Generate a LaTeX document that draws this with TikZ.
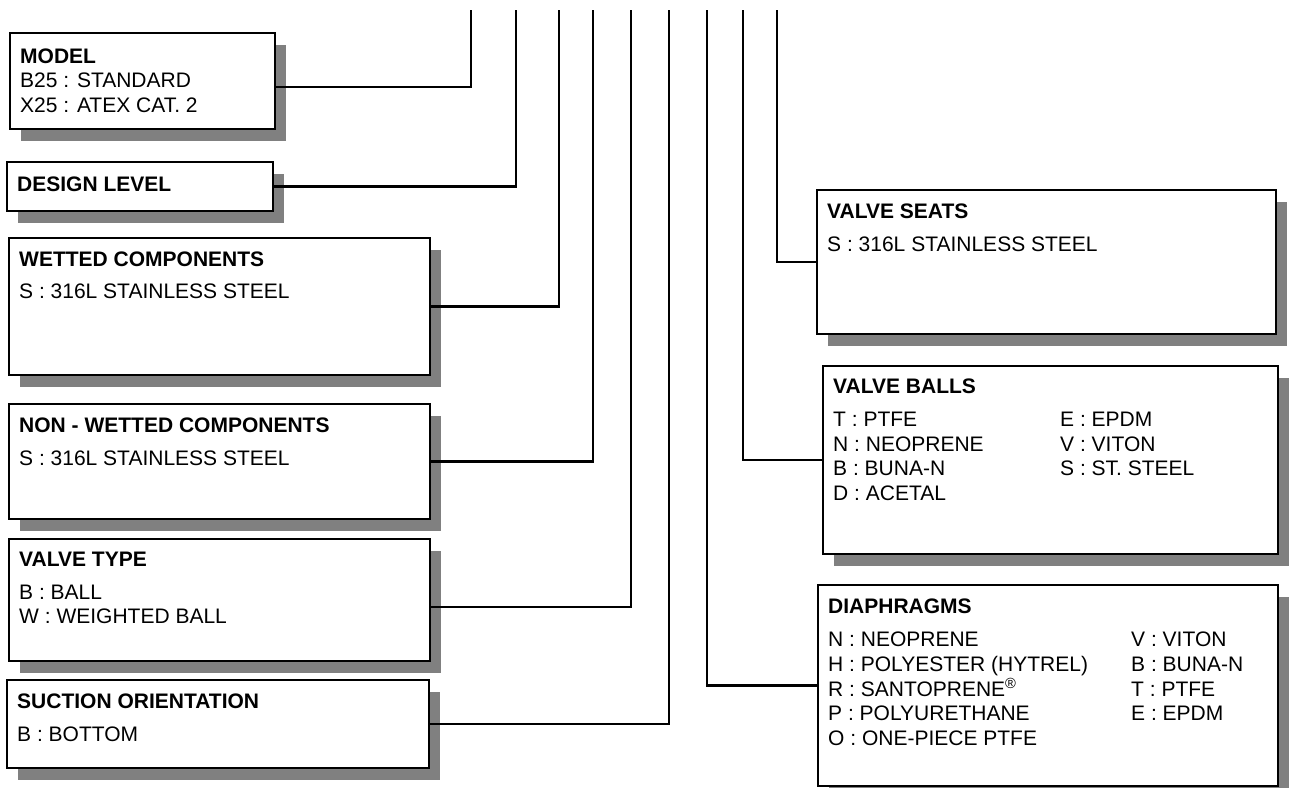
\documentclass[tikz,border=0pt]{standalone}
\usepackage{fontspec}
\setmainfont{Liberation Sans}
\usetikzlibrary{shadows}

\begin{document}
\begin{tikzpicture}[x=1pt, y=-1pt,
  box/.style={draw, line width=2.7pt, fill=white, anchor=north west, inner sep=0pt, outer sep=0pt,
    drop shadow={shadow xshift=11pt, shadow yshift=-12pt, fill=black!50, opacity=1}},
  txt/.style={anchor=base west, inner sep=0pt, font=\fontsize{21}{24.5}\selectfont},
  link/.style={line width=2.2pt}
]
\useasboundingbox (0,0) rectangle (1289,787);

% left column
\node[box, minimum width=265pt, minimum height=96pt] (model) at (10,33) {};
\node[box, minimum width=266pt, minimum height=49pt] (design) at (7,162) {};
\node[box, minimum width=421pt, minimum height=137pt] (wetted) at (9,238) {};
\node[box, minimum width=421pt, minimum height=115pt] (nonwet) at (9,404) {};
\node[box, minimum width=421pt, minimum height=122pt] (vtype) at (9,539) {};
\node[box, minimum width=422pt, minimum height=88pt] (suction) at (7,680) {};

% right column
\node[box, minimum width=459pt, minimum height=144pt] (seats) at (817,190) {};
\node[box, minimum width=455pt, minimum height=188pt] (balls) at (823,366) {};
\node[box, minimum width=460pt, minimum height=201pt] (diaph) at (818,585) {};

% texts
\node[txt] (model-txt) at ([shift={(10,30)}]model.north west)
  {\begin{tabular}[t]{@{}l@{}}\bfseries MODEL\\ B25 : STANDARD\\ X25 : ATEX CAT. 2\end{tabular}};
\node[txt] (design-txt) at ([shift={(10,29)}]design.north west) {\bfseries DESIGN LEVEL};
\node[txt] (wetted-txt) at ([shift={(10,28)}]wetted.north west)
  {\begin{tabular}[t]{@{}l@{}}\bfseries WETTED COMPONENTS\\[8pt] S : 316L STAINLESS STEEL\end{tabular}};
\node[txt] (nonwet-txt) at ([shift={(10,28)}]nonwet.north west)
  {\begin{tabular}[t]{@{}l@{}}\bfseries NON - WETTED COMPONENTS\\[8.5pt] S : 316L STAINLESS STEEL\end{tabular}};
\node[txt] (vtype-txt) at ([shift={(10,27)}]vtype.north west)
  {\begin{tabular}[t]{@{}l@{}}\bfseries VALVE TYPE\\[8.5pt] B : BALL\\ W : WEIGHTED BALL\end{tabular}};
\node[txt] (suction-txt) at ([shift={(10,28)}]suction.north west)
  {\begin{tabular}[t]{@{}l@{}}\bfseries SUCTION ORIENTATION\\[8.5pt] B : BOTTOM\end{tabular}};
\node[txt] (seats-txt) at ([shift={(10,28)}]seats.north west)
  {\begin{tabular}[t]{@{}l@{}}\bfseries VALVE SEATS\\[8.5pt] S : 316L STAINLESS STEEL\end{tabular}};
\node[txt] (balls-txt) at ([shift={(10,27)}]balls.north west)
  {\begin{tabular}[t]{@{}p{227pt}@{}l@{}}
    \multicolumn{2}{@{}l@{}}{\bfseries VALVE BALLS}\\[9pt]
    T : PTFE & E : EPDM\\
    N : NEOPRENE & V : VITON\\
    B : BUNA-N & S : ST. STEEL\\
    D : ACETAL &
  \end{tabular}};
\node[txt] (diaph-txt) at ([shift={(10,28)}]diaph.north west)
  {\begin{tabular}[t]{@{}p{303pt}@{}l@{}}
    \multicolumn{2}{@{}l@{}}{\bfseries DIAPHRAGMS}\\[9pt]
    N : NEOPRENE & V : VITON\\
    H : POLYESTER (HYTREL) & B : BUNA-N\\
    R : SANTOPRENE\textsuperscript{\textregistered} & T : PTFE\\
    P : POLYURETHANE & E : EPDM\\
    O : ONE-PIECE PTFE &
  \end{tabular}};

% code lines
\foreach \n/\x in {1/471, 2/516, 3/559, 4/593, 5/631, 6/669, 7/707, 8/743, 9/777}
  \coordinate (t\n) at (\x,10);
\draw[link] (t1) |- ([yshift=-6pt]model.east);
\draw[link] (t2) |- (design);
\draw[link] (t3) |- (wetted);
\draw[link] (t4) |- (nonwet);
\draw[link] (t5) |- ([yshift=-7pt]vtype.east);
\draw[link] (t6) |- (suction);
\draw[link] (t7) |- (diaph);
\draw[link] (t8) |- (balls);
\draw[link] (t9) |- (seats);
\end{tikzpicture}
\end{document}
